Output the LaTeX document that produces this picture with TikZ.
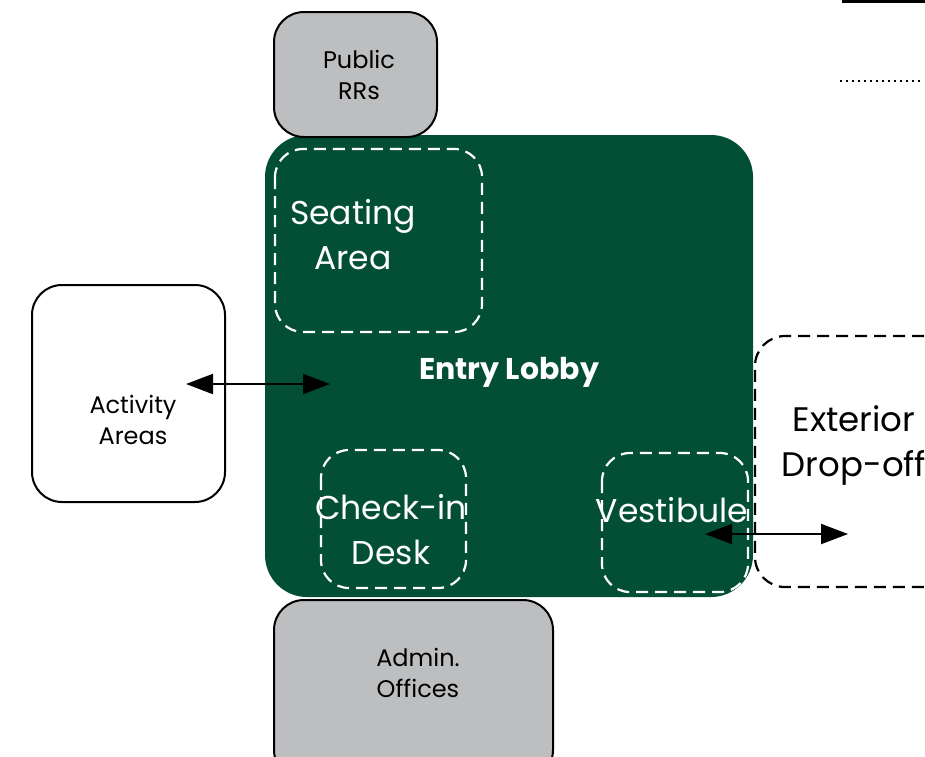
\documentclass[tikz,border=0pt]{standalone}
\usepackage{fontspec}
\setmainfont{Poppins}
\usetikzlibrary{arrows.meta}
\definecolor{lobby}{HTML}{024F36}
\definecolor{rgray}{HTML}{BDBEC0}
\tikzset{
  room/.style={draw=black, line width=2pt, rounded corners=30pt},
  zone/.style={draw=white, line width=2.2pt, rounded corners=28pt, dash pattern=on 12pt off 7pt},
  big/.style={font=\fontsize{33}{45}\selectfont, align=center, text=white},
  small/.style={font=\fontsize{24}{31}\selectfont, align=center},
  dbl/.style={{Triangle[length=27pt,width=20pt]}-{Triangle[length=27pt,width=20pt]}, line width=2pt}
}
\begin{document}
\begin{tikzpicture}[x=1pt,y=-1pt]
\useasboundingbox (0,0) rectangle (925,756);
% legend lines
\draw[line width=3pt] (842,1) -- (925,1);
\draw[line width=2pt, dash pattern=on 2pt off 4pt] (840,81) -- (922,81);
% exterior drop-off
\draw[line width=2.2pt, dash pattern=on 12pt off 7pt, rounded corners=30pt] (1000,336) -- (755,336) -- (755,587) -- (1000,587);
% lobby
\fill[lobby, rounded corners=42pt] (265,135) rectangle (753,597);
% public RRs
\filldraw[room, fill=rgray] (274,12) rectangle (437,137);
\node[small] (rr) at (359,75) {Public\\RRs};
% admin
\filldraw[room, fill=rgray] (274,600) rectangle (553,780);
\node[small] (adm) at (418,673) {Admin.\\Offices};
% activity
\filldraw[room, fill=white] (32,285) rectangle (225,502);
\node[small] (act) at (133,420) {Activity\\Areas};
% zones
\draw[zone] (275,149) rectangle (482,332);
\node[big] (seat) at (353,235) {Seating\\Area};
\draw[zone] (321,450) rectangle (466,588);
\node[big] (chk) at (391,530) {Check-in\\Desk};
\draw[zone] (602,453) rectangle (748,592);
\node[big] (vest) at (672,510) {Vestibule};
\node[font=\fontsize{34}{45}\selectfont, align=center] (ext) at (854,445) {Exterior\\Drop-off};
\node[text=white, font=\bfseries\fontsize{30}{34}\selectfont] (lob) at (509,372) {Entry Lobby};
% arrows
\coordinate (a1) at (186,384);
\coordinate (a2) at (330,384);
\draw[dbl] (a1) -- (a2);
\coordinate (b1) at (705,534);
\coordinate (b2) at (848,534);
\draw[dbl] (b1) -- (b2);
\end{tikzpicture}
\end{document}
